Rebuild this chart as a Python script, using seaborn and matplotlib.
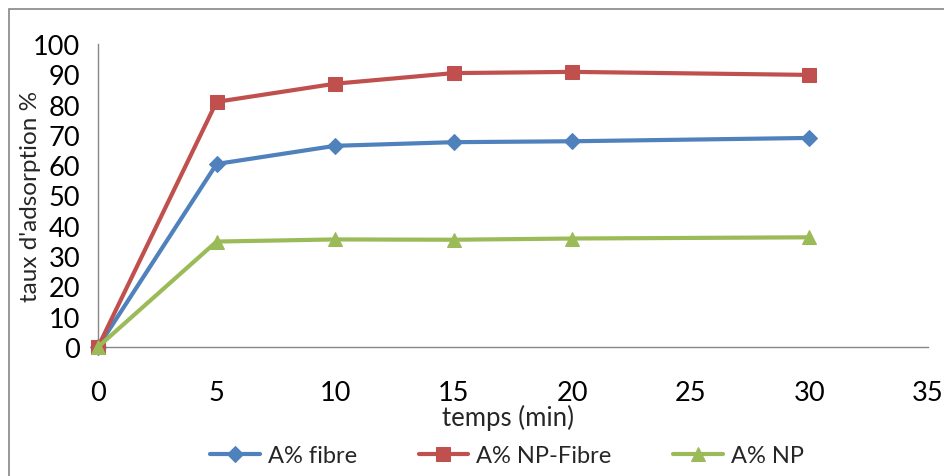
import matplotlib
matplotlib.use("Agg")
import matplotlib.pyplot as plt
from matplotlib.patches import Rectangle
import seaborn as sns
import pandas as pd

# Adsorption kinetics: time (min) vs adsorption rate (%)
temps = [0, 5, 10, 15, 20, 30]
fibre = [0, 60.4, 66.4, 67.6, 67.9, 69.0]
np_fibre = [0, 80.9, 86.9, 90.4, 90.8, 89.8]
np_only = [0, 34.8, 35.5, 35.4, 35.8, 36.2]

series_names = ["A% fibre", "A% NP-Fibre", "A% NP"]
colors = ["#4F81BD", "#C0504D", "#9BBB59"]
markers = ["D", "s", "^"]
msizes = [8.5, 10, 10.5]

df = pd.DataFrame({
    "temps": temps * 3,
    "taux": fibre + np_fibre + np_only,
    "serie": sum([[n] * len(temps) for n in series_names], []),
})

sns.set_style("white")
plt.rcParams["font.family"] = ["Lato", "DejaVu Sans"]

fig = plt.figure(figsize=(9.44, 4.77), dpi=100)
ax = fig.add_axes([98 / 944, 1 - 348 / 477, (928 - 98) / 944, (348 - 45) / 477])

for name, c, m, ms in zip(series_names, colors, markers, msizes):
    sub = df[df["serie"] == name]
    sns.lineplot(data=sub, x="temps", y="taux", ax=ax, color=c, marker=m,
                 markersize=ms, markeredgecolor=c, linewidth=3, label=name,
                 clip_on=False, zorder=3)

ax.set_xlim(0, 35)
ax.set_ylim(0, 100)
ax.set_xticks(range(0, 36, 5))
ax.set_yticks(range(0, 101, 10))

grey = "#868686"
for side in ["top", "right"]:
    ax.spines[side].set_visible(False)
for side in ["left", "bottom"]:
    ax.spines[side].set_color(grey)
    ax.spines[side].set_linewidth(1)

ax.tick_params(axis="both", which="major", direction="out", length=7,
               width=1, color=grey, labelsize=19.5, labelcolor="black")
ax.tick_params(axis="x", pad=17)
ax.tick_params(axis="y", pad=6)

ax.set_xlabel("temps (min)", fontsize=18.5, labelpad=-1.5)
ax.xaxis.set_label_coords(0.494, -(405 - 348) / (348 - 45), transform=ax.transAxes)
ax.xaxis.label.set_va("top")
ax.set_ylabel("taux d'adsorption %", fontsize=17.5)
ax.yaxis.set_label_coords(-(98 - 31) / 830, 0.5, transform=ax.transAxes)
ax.yaxis.label.set_va("center")

leg = ax.legend(loc="center", ncol=3, frameon=False, fontsize=17,
                handlelength=2.1, columnspacing=2.6, handletextpad=0.35)
leg.set_bbox_to_anchor((0.5 - 6 / 830, -(457 - 348) / (348 - 45)))

# outer chart frame
fig.patches.append(Rectangle((9 / 944, -0.1), 1.2, 1 - 10 / 477 + 0.1,
                             transform=fig.transFigure, fill=False,
                             edgecolor=grey, linewidth=1.2))

fig.savefig("out.png", dpi=100)
